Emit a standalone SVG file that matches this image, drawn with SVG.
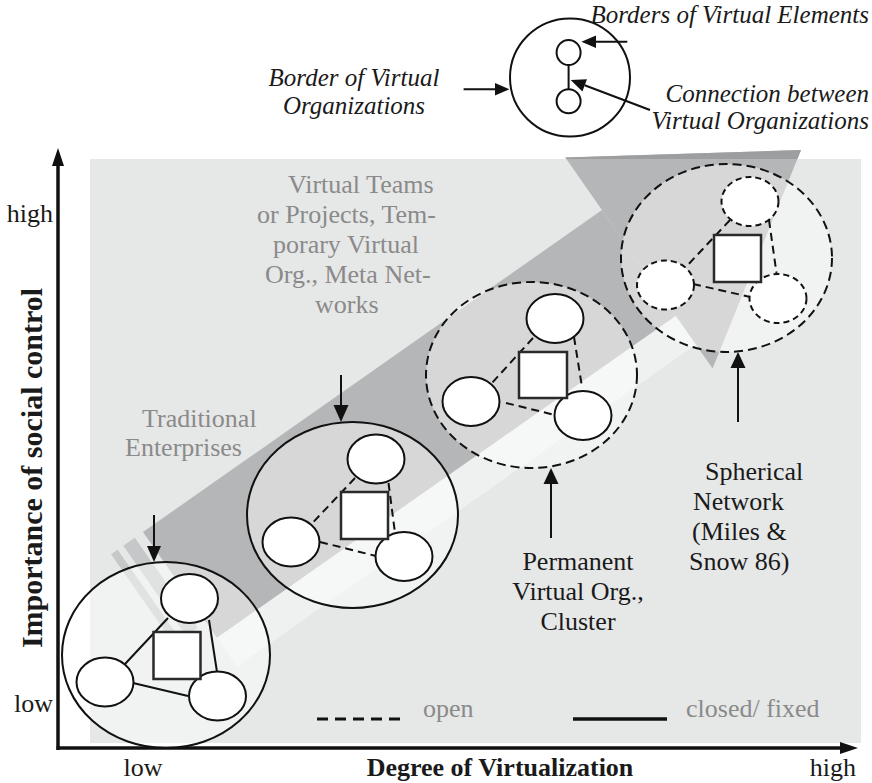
<svg xmlns="http://www.w3.org/2000/svg" width="872" height="783" viewBox="0 0 872 783">
<style>
.t{font-family:"Liberation Serif","Times New Roman",serif;font-size:26px;fill:#1a1a1a}
.g{fill:#8a8a8a}
.it{font-style:italic;font-size:25px}
.b{font-weight:bold}
.big{fill:#ffffff;fill-opacity:0.46;stroke:#111;stroke-width:2}
.dash{stroke-dasharray:9 5}
.node{fill:#fff;stroke:#111;stroke-width:2}
.ndash{stroke-dasharray:6 4}
.sq{fill:#fff;stroke:#2a2a2a;stroke-width:2.5}
.con{stroke:#111;stroke-width:2;fill:none}
.cdash{stroke-dasharray:8 5}
.ar{stroke:#111;stroke-width:2;fill:none}
.ah{fill:#111}
</style>
<rect width="872" height="783" fill="#fff"/>
<g id="background">
<rect x="90" y="159" width="771" height="584" fill="#e6e7e7"/>
<polygon points="216.9,637.7 675.9,315.7 696,344.4 237,666.4" fill="#eff0f0"/>
<polygon points="111.1,554.3 117.6,549.8 180.6,639.9 174.1,644.4" fill="#c6c7c8"/>
<polygon points="123.3,545.8 134.8,537.7 197.8,627.8 186.3,635.9" fill="#c6c7c8"/>
<polygon points="143,532 602,210 675.9,315.7 216.9,637.7" fill="#b5b6b8"/>
<polygon points="565.3,157.6 801,150 712.6,368.4" fill="#b5b6b8"/>
<polygon points="565.3,157.6 801,150 797.4,159 566.3,159" fill="#9d9e9f"/>
</g>
<g id="axes">
<line x1="58" y1="750" x2="58" y2="164" stroke="#111" stroke-width="3.5"/>
<polygon points="58,148 52,166 64,166" class="ah"/>
<line x1="56.5" y1="748" x2="842" y2="748" stroke="#111" stroke-width="3.5"/>
<polygon points="858,748 840,742 840,754" class="ah"/>
<text class="t" x="53" y="222" text-anchor="end">high</text>
<text class="t" x="53" y="712" text-anchor="end">low</text>
<text class="t" x="143" y="776" text-anchor="middle">low</text>
<text class="t" x="856" y="776" text-anchor="end">high</text>
<text class="t b" x="500" y="776" text-anchor="middle">Degree of Virtualization</text>
<text class="t b" transform="translate(42,468) rotate(-90)" text-anchor="middle" style="font-size:30px">Importance of social control</text>
</g>
<g id="cluster1" transform="translate(166,655)">
<ellipse class="big" rx="104" ry="93"/>
<line class="con" x1="2" y1="-37" x2="-41" y2="9"/>
<line class="con" x1="43" y1="-35" x2="51" y2="17"/>
<line class="con" x1="-33" y1="28" x2="22" y2="41"/>
<ellipse class="node" cx="23.5" cy="-56.5" rx="28.5" ry="24.5"/>
<ellipse class="node" cx="-61" cy="27" rx="28.5" ry="24.5"/>
<ellipse class="node" cx="51.5" cy="41" rx="28.5" ry="24.5"/>
<rect class="sq" x="-12.5" y="-23" width="47" height="47"/>
</g>
<g id="cluster2" transform="translate(352.5,515)">
<ellipse class="big" rx="105.5" ry="93"/>
<line class="con cdash" x1="2.5" y1="-37" x2="-40" y2="8"/>
<line class="con cdash" x1="36" y1="-32" x2="42.5" y2="18"/>
<line class="con cdash" x1="-32.5" y1="27" x2="23.5" y2="41"/>
<ellipse class="node" cx="23.5" cy="-56" rx="28.5" ry="24.5"/>
<ellipse class="node" cx="-61.5" cy="27" rx="28.5" ry="24.5"/>
<ellipse class="node" cx="51.5" cy="41.5" rx="28.5" ry="24.5"/>
<rect class="sq" x="-11.5" y="-23" width="47" height="47"/>
</g>
<g id="cluster3" transform="translate(531.5,375)">
<ellipse class="big dash" rx="105.5" ry="93"/>
<line class="con cdash" x1="1.5" y1="-37" x2="-40.5" y2="9"/>
<line class="con cdash" x1="42.5" y1="-38" x2="50.5" y2="12"/>
<line class="con cdash" x1="-25.5" y1="28" x2="23.5" y2="40"/>
<ellipse class="node" cx="23.5" cy="-56.5" rx="28.5" ry="24.5"/>
<ellipse class="node" cx="-60.5" cy="26.5" rx="28.5" ry="24.5"/>
<ellipse class="node" cx="51.5" cy="40.5" rx="28.5" ry="24.5"/>
<rect class="sq" x="-12.5" y="-23" width="48" height="46"/>
</g>
<g id="cluster4" transform="translate(726.5,258)">
<ellipse class="big dash" rx="105.5" ry="94"/>
<line class="con cdash" x1="3.5" y1="-38" x2="-41.5" y2="10"/>
<line class="con cdash" x1="42.5" y1="-38" x2="50" y2="15"/>
<line class="con cdash" x1="-33.5" y1="26" x2="22.5" y2="38.7"/>
<ellipse class="node ndash" cx="23.5" cy="-56.5" rx="28.5" ry="24.5"/>
<ellipse class="node ndash" cx="-61" cy="27" rx="28.5" ry="24.5"/>
<ellipse class="node ndash" cx="51.5" cy="40.5" rx="28.5" ry="24.5"/>
<rect class="sq" x="-12.5" y="-23" width="47" height="47"/>
</g>
<g id="legend-top">
<ellipse cx="570" cy="77.5" rx="60" ry="59" fill="none" stroke="#111" stroke-width="2"/>
<line x1="568.6" y1="64.5" x2="568.6" y2="89.3" class="con"/>
<ellipse class="node" cx="568.6" cy="52.5" rx="12" ry="12.5"/>
<ellipse class="node" cx="568.6" cy="101.3" rx="12" ry="12"/>
<text class="t it" x="869" y="23" text-anchor="end">Borders of Virtual Elements</text>
<text class="t it" x="354" y="86" text-anchor="middle">Border of Virtual</text>
<text class="t it" x="354" y="114" text-anchor="middle">Organizations</text>
<text class="t it" x="869" y="102" text-anchor="end">Connection between</text>
<text class="t it" x="869" y="129" text-anchor="end">Virtual Organizations</text>
</g>
<g id="connectors">
<line class="ar" x1="463.6" y1="89.3" x2="497" y2="89.3"/>
<polygon class="ah" points="509.4,89.3 495,83 495,95.6"/>
<line class="ar" x1="627.3" y1="41.7" x2="594" y2="41.7"/>
<polygon class="ah" points="581.4,41.7 596,35.5 596,48"/>
<line class="ar" x1="650" y1="110" x2="584.7" y2="85.3"/>
<polygon class="ah" points="570.7,80 587,79.2 582.4,91.4"/>
<line class="ar" x1="154" y1="515" x2="154" y2="548"/>
<polygon class="ah" points="154,562 147,546 161,546"/>
<line class="ar" x1="341" y1="375" x2="341" y2="407"/>
<polygon class="ah" points="341,422 333.5,405 348.5,405"/>
<line class="ar" x1="551" y1="538" x2="551" y2="482"/>
<polygon class="ah" points="551,468 543.5,484 558.5,484"/>
<line class="ar" x1="738" y1="422" x2="738" y2="366"/>
<polygon class="ah" points="738,352 730.5,368 745.5,368"/>
</g>
<g id="labels">
<text class="t g" x="288" y="193">Virtual Teams</text>
<text class="t g" x="257" y="223">or Projects, Tem-</text>
<text class="t g" x="273" y="253">porary Virtual</text>
<text class="t g" x="265" y="283">Org., Meta Net-</text>
<text class="t g" x="315" y="313">works</text>
<text class="t g" x="142" y="427">Traditional</text>
<text class="t g" x="125" y="456">Enterprises</text>
<text class="t" x="578" y="570" text-anchor="middle">Permanent</text>
<text class="t" x="578" y="600" text-anchor="middle">Virtual Org.,</text>
<text class="t" x="578" y="630" text-anchor="middle">Cluster</text>
<text class="t" x="705" y="480">Spherical</text>
<text class="t" x="693" y="510">Network</text>
<text class="t" x="692" y="540">(Miles &amp;</text>
<text class="t" x="689" y="570">Snow 86)</text>
</g>
<g id="legend-bottom">
<line x1="317" y1="719" x2="403" y2="719" stroke="#111" stroke-width="3" stroke-dasharray="11 7"/>
<text class="t g" x="423" y="717">open</text>
<line x1="573" y1="719" x2="667" y2="719" stroke="#111" stroke-width="3.5"/>
<text class="t g" x="686" y="717">closed/ fixed</text>
</g>
</svg>
